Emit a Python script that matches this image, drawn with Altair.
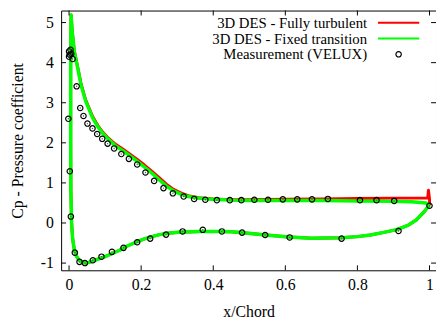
import altair as alt
import pandas as pd

# ---------------- data ----------------
x_ticks = [0, 0.2, 0.4, 0.6, 0.8, 1]
y_ticks = [-1, 0, 1, 2, 3, 4, 5]
series_names = ["3D DES - Fully turbulent", "3D DES - Fixed transition", "Measurement (VELUX)"]
series_colors = ["#ff0000", "#00ff00", "#000000"]

# Fully turbulent (red): TE upper -> LE -> lower -> TE
turb_x = [1.0, 1.0, 0.997, 0.995, 0.95, 0.9, 0.8, 0.7, 0.6, 0.5, 0.45, 0.4, 0.36, 0.33, 0.31, 0.29,
          0.27, 0.25, 0.23, 0.21, 0.19, 0.17, 0.15, 0.128, 0.11, 0.092, 0.08, 0.065, 0.046, 0.033,
          0.024, 0.0145, 0.009, 0.0055, 0.0045, 0.0045, 0.005, 0.007, 0.01, 0.0145, 0.02, 0.028,
          0.037, 0.046, 0.06, 0.08, 0.1, 0.115, 0.14, 0.16, 0.185, 0.205, 0.23, 0.251, 0.28, 0.305,
          0.36, 0.415, 0.45, 0.49, 0.545, 0.61, 0.673, 0.755, 0.8, 0.836, 0.87, 0.909, 0.94, 0.964,
          0.986, 1.0]
turb_y = [0.45, 0.6, 0.82, 0.62, 0.62, 0.62, 0.61, 0.6, 0.59, 0.58, 0.58, 0.6, 0.63, 0.68, 0.75, 0.84,
          0.97, 1.13, 1.29, 1.44, 1.58, 1.71, 1.84, 1.97, 2.11, 2.28, 2.43, 2.66, 3.07, 3.48,
          3.89, 4.3, 4.77, 5.19, 4.0, 2.0, 0.8, 0.0, -0.4, -0.66, -0.82, -0.93,
          -0.98, -1.0, -0.97, -0.9, -0.84, -0.78, -0.68, -0.58, -0.48, -0.41, -0.34, -0.29, -0.25, -0.23,
          -0.21, -0.21, -0.22, -0.25, -0.3, -0.35, -0.38, -0.37, -0.34, -0.3, -0.24, -0.165, -0.06, 0.08,
          0.29, 0.45]

# Fixed transition (green)
trans_x = [1.0, 0.99, 0.95, 0.9, 0.8, 0.7, 0.6, 0.5, 0.45, 0.4, 0.36, 0.33, 0.31, 0.29, 0.27, 0.25,
           0.23, 0.21, 0.19, 0.17, 0.15, 0.128, 0.11, 0.092, 0.08, 0.065, 0.046, 0.033, 0.024, 0.0145,
           0.009, 0.0055, 0.0045, 0.0045, 0.005, 0.007, 0.01, 0.0145, 0.02, 0.028, 0.037, 0.046, 0.06,
           0.08, 0.1, 0.115, 0.14, 0.16, 0.185, 0.205, 0.23, 0.251, 0.28, 0.305, 0.36, 0.415, 0.45,
           0.49, 0.545, 0.61, 0.673, 0.755, 0.8, 0.836, 0.87, 0.909, 0.94, 0.964, 0.986, 1.0]
trans_y = [0.45, 0.5, 0.53, 0.54, 0.55, 0.56, 0.56, 0.56, 0.57, 0.59, 0.62, 0.66, 0.72, 0.8, 0.92, 1.08,
           1.24, 1.39, 1.53, 1.67, 1.8, 1.93, 2.08, 2.25, 2.4, 2.63, 3.04, 3.45, 3.86, 4.27,
           4.75, 5.19, 4.0, 2.0, 0.8, 0.0, -0.4, -0.66, -0.82, -0.93, -0.98, -1.0, -0.97,
           -0.9, -0.84, -0.78, -0.68, -0.58, -0.48, -0.41, -0.34, -0.29, -0.25, -0.23, -0.21, -0.21, -0.22,
           -0.25, -0.3, -0.35, -0.38, -0.37, -0.34, -0.3, -0.24, -0.165, -0.06, 0.08, 0.29, 0.45]

# Measurement (VELUX)
meas_x = [0.0, 0.002, 0.004, 0.0, 0.006, 0.01, 0.021, 0.031, 0.04, 0.051, 0.065, 0.078, 0.092, 0.107,
          0.125, 0.145, 0.166, 0.189, 0.212, 0.236, 0.262, 0.288, 0.318, 0.347, 0.378, 0.41, 0.446,
          0.478, 0.514, 0.552, 0.593, 0.633, 0.674, 0.718, 0.807, 0.853, 0.902, 1.0,
          -0.002, 0.002, 0.005, 0.016, 0.029, 0.044, 0.066, 0.09, 0.119, 0.151, 0.189, 0.225, 0.269,
          0.315, 0.371, 0.424, 0.48, 0.544, 0.612, 0.756, 0.914]
meas_y = [4.28, 4.2, 4.32, 4.15, 4.22, 4.09, 3.41, 2.87, 2.67, 2.48, 2.36, 2.22, 2.1, 1.98,
          1.86, 1.72, 1.6, 1.46, 1.26, 1.05, 0.87, 0.74, 0.66, 0.6, 0.58, 0.57, 0.57,
          0.57, 0.58, 0.58, 0.59, 0.59, 0.59, 0.6, 0.57, 0.57, 0.55, 0.43,
          2.6, 1.29, 0.16, -0.74, -0.97, -1.0, -0.93, -0.84, -0.72, -0.62, -0.48, -0.39, -0.29,
          -0.21, -0.17, -0.21, -0.24, -0.3, -0.36, -0.39, -0.2]

# ---------------- chart ----------------
FONT = "Liberation Serif"
W, H = 381, 264
TL = 5  # inward tick length

turb = pd.DataFrame({"x": turb_x, "y": turb_y, "o": range(len(turb_x))})
trans = pd.DataFrame({"x": trans_x, "y": trans_y, "o": range(len(trans_x))})
meas = pd.DataFrame({"x": meas_x, "y": meas_y})
xt = pd.DataFrame({"x": x_ticks})
yt = pd.DataFrame({"y": y_ticks})

xs = alt.Scale(domain=[-0.022, 1.018], nice=False, zero=False)
ys = alt.Scale(domain=[-1.18, 5.3], nice=False, zero=False)

xaxis = alt.Axis(values=x_ticks, ticks=False, domain=False, grid=False,
                 labelFont=FONT, labelFontSize=16, labelColor="black", labelPadding=7,
                 labelExpr="'' + datum.value",
                 title="x/Chord", titleFont=FONT, titleFontSize=16, titleFontWeight="normal",
                 titleColor="black", titlePadding=11)
yaxis = alt.Axis(values=y_ticks, ticks=False, domain=False, grid=False,
                 labelFont=FONT, labelFontSize=16, labelColor="black", labelPadding=8,
                 labelExpr="'' + datum.value",
                 title="Cp - Pressure coefficient", titleFont=FONT, titleFontSize=16,
                 titleFontWeight="normal", titleColor="black", titlePadding=15)

X = alt.X("x:Q", scale=xs, axis=xaxis)
Y = alt.Y("y:Q", scale=ys, axis=yaxis)

red = alt.Chart(turb).mark_line(color=series_colors[0], strokeWidth=3, strokeJoin="round").encode(
    x=X, y=Y, order="o:Q")
green = alt.Chart(trans).mark_line(color=series_colors[1], strokeWidth=3.5, strokeJoin="round").encode(
    x=X, y=Y, order="o:Q")
pts = alt.Chart(meas).mark_point(shape="circle", size=30, color="black", strokeWidth=1.2,
                                 filled=False, opacity=1).encode(x=X, y=Y)
dots = alt.Chart(meas).mark_point(shape="circle", size=2, color="#555555", filled=True,
                                  opacity=1).encode(x=X, y=Y)

tick_b = alt.Chart(xt).mark_rule(color="black", strokeWidth=1).encode(
    x=X, y=alt.value(H), y2=alt.value(H - TL))
tick_t = alt.Chart(xt).mark_rule(color="black", strokeWidth=1).encode(
    x=X, y=alt.value(0), y2=alt.value(TL))
tick_l = alt.Chart(yt).mark_rule(color="black", strokeWidth=1).encode(
    y=Y, x=alt.value(0), x2=alt.value(TL))
tick_r = alt.Chart(yt).mark_rule(color="black", strokeWidth=1).encode(
    y=Y, x=alt.value(W), x2=alt.value(W - TL))

# legend (gnuplot style: label right-aligned, sample on the right)
leg_rows = [12.5, 28.5, 44.5]
legend_layers = []
for i, name in enumerate(series_names):
    legend_layers.append(
        alt.Chart(pd.DataFrame({"label": [name]})).mark_text(
            align="right", baseline="middle", font=FONT, fontSize=15, color="black"
        ).encode(text="label:N", x=alt.value(311), y=alt.value(leg_rows[i]))
    )
    if i < 2:
        legend_layers.append(
            alt.Chart(pd.DataFrame({"label": [name]})).mark_rule(
                color=series_colors[i], strokeWidth=2
            ).encode(x=alt.value(322), x2=alt.value(364), y=alt.value(leg_rows[i]))
        )
    else:
        legend_layers.append(
            alt.Chart(pd.DataFrame({"label": [name]})).mark_point(
                shape="circle", size=30, color="black", strokeWidth=1.2, filled=False, opacity=1
            ).encode(x=alt.value(343), y=alt.value(leg_rows[i]))
        )

chart = alt.layer(red, green, pts, dots, tick_b, tick_t, tick_l, tick_r, *legend_layers).properties(
    width=W, height=H,
    padding={"left": 54, "top": 0, "right": 0, "bottom": 52},
    autosize=alt.AutoSizeParams(type="none"),
    background="white",
).configure_view(stroke="black", strokeWidth=1)

chart.save("out.html", embed_options={"renderer": "svg", "actions": False})
